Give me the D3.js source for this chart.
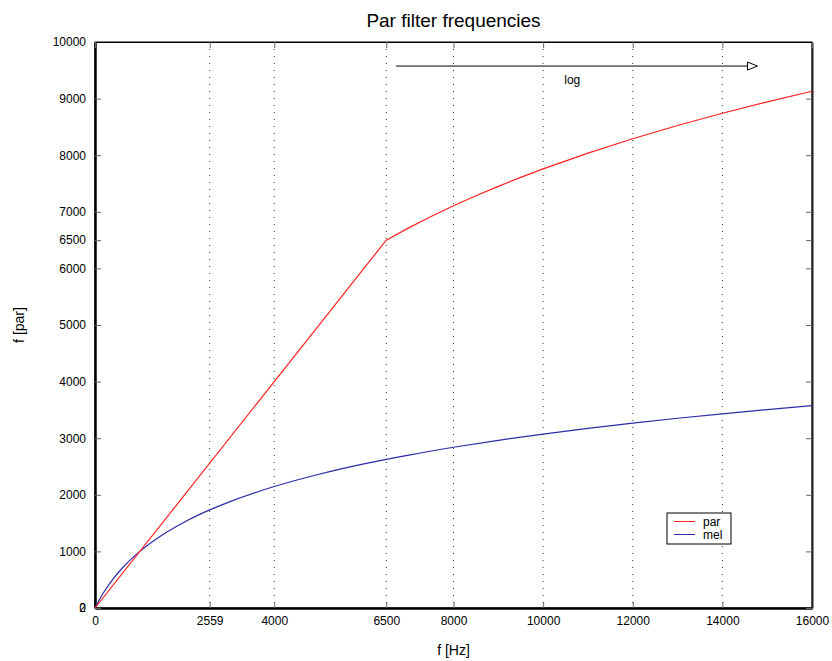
<!DOCTYPE html>
<html>
<head>
<meta charset="utf-8">
<script src="https://cdn.jsdelivr.net/npm/d3@7"></script>
<style>
  body { margin: 0; background: #fff; }
  svg { font-family: "Liberation Sans", Arial, Helvetica, sans-serif; }
  .grid line { stroke: #333; stroke-width: 1; stroke-dasharray: 1,6; }
  .tick text { font-size: 12px; fill: #000; }
</style>
</head>
<body>
<svg width="832" height="661"></svg>
<script>
// par: linear up to 6500 Hz, log-like above
var parF = [0, 6500, 7000, 7500, 8000, 8500, 9000, 9500, 10000, 11000, 12000, 13000, 14000, 15000, 16000],
    parV = [0, 6500, 6716, 6918, 7106, 7283, 7450, 7608, 7758, 8036, 8290, 8524, 8741, 8942, 9130];

// mel scale
var melF = [0, 100, 200, 400, 600, 800, 1000, 1500, 2000, 2559, 3000, 4000, 5000, 6000, 7000, 8000, 9000, 10000, 11000, 12000, 13000, 14000, 15000, 16000],
    melV = [0, 150, 283, 509, 698, 859, 1000, 1291, 1521, 1733, 1876, 2146, 2363, 2546, 2702, 2840, 2963, 3073, 3174, 3266, 3352, 3431, 3505, 3575];

var xTicks = [0, 2559, 4000, 6500, 8000, 10000, 12000, 14000, 16000],
    yTicks = [0, 2, 1000, 2000, 3000, 4000, 5000, 6000, 6500, 7000, 8000, 9000, 10000];

var svg = d3.select("svg"),
    margin = {top: 42, right: 20, bottom: 53, left: 95},
    width = +svg.attr("width") - margin.left - margin.right,
    height = +svg.attr("height") - margin.top - margin.bottom;

var x = d3.scaleLinear().domain([0, 16000]).range([0, width]),
    y = d3.scaleLinear().domain([0, 10000]).range([height, 0]);

var chart = svg.append("g")
    .attr("transform", "translate(" + margin.left + "," + margin.top + ")");

// dotted vertical grid
chart.append("g")
    .attr("class", "grid")
  .selectAll("line")
    .data(xTicks.filter(function(d) { return d > 0 && d < 16000; }))
  .enter().append("line")
    .attr("x1", function(d) { return x(d); })
    .attr("x2", function(d) { return x(d); })
    .attr("y1", 0)
    .attr("y2", height);

// frame
chart.append("rect")
    .attr("width", width)
    .attr("height", height)
    .attr("fill", "none")
    .attr("stroke", "#000")
    .attr("stroke-width", 1);

// axes
var xAxis = chart.append("g")
    .attr("transform", "translate(0," + height + ")")
    .call(d3.axisBottom(x).tickValues(xTicks).tickFormat(d3.format("d")).tickSizeInner(-6).tickSizeOuter(0).tickPadding(8));
xAxis.select(".domain").attr("stroke", "#000").attr("stroke-width", 2.5);
xAxis.selectAll(".tick line").attr("stroke", "#666");

var yAxis = chart.append("g")
    .call(d3.axisLeft(y).tickValues(yTicks).tickFormat(d3.format("d")).tickSizeInner(-6).tickSizeOuter(0).tickPadding(9));
yAxis.select(".domain").attr("stroke", "#000").attr("stroke-width", 2.5);
yAxis.selectAll(".tick line").attr("stroke", "#666");

var yRight = chart.append("g")
    .attr("transform", "translate(" + width + ",0)")
    .call(d3.axisRight(y).tickValues(yTicks).tickFormat("").tickSizeInner(-6).tickSizeOuter(0));
yRight.select(".domain").attr("stroke", "#222").attr("stroke-width", 2);
yRight.selectAll(".tick line").attr("stroke", "#666");

var xTop = chart.append("g")
    .call(d3.axisTop(x).tickValues(xTicks).tickFormat("").tickSizeInner(-6).tickSizeOuter(0));
xTop.select(".domain").attr("stroke", "#000").attr("stroke-width", 1);
xTop.selectAll(".tick line").attr("stroke", "#666");

// curves
var parLine = d3.line()
    .x(function(d, i) { return x(parF[i]); })
    .y(function(d) { return y(d); });

var melLine = d3.line()
    .x(function(d, i) { return x(melF[i]); })
    .y(function(d) { return y(d); })
    .curve(d3.curveMonotoneX);

chart.append("path")
    .attr("d", melLine(melV))
    .attr("fill", "none")
    .attr("stroke", "#2b2ba8")
    .attr("stroke-width", 1.2);

chart.append("path")
    .attr("d", parLine(parV))
    .attr("fill", "none")
    .attr("stroke", "#f22")
    .attr("stroke-width", 1.2);

// log arrow
var arrowY = y(9575);
chart.append("line")
    .attr("x1", x(6720))
    .attr("x2", x(14560))
    .attr("y1", arrowY)
    .attr("y2", arrowY)
    .attr("stroke", "#000")
    .attr("stroke-width", 1);
chart.append("path")
    .attr("d", "M" + x(14560) + "," + (arrowY - 4) + "L" + (x(14560) + 10) + "," + arrowY + "L" + x(14560) + "," + (arrowY + 4) + "Z")
    .attr("fill", "#fff")
    .attr("stroke", "#000")
    .attr("stroke-width", 1);
chart.append("text")
    .attr("x", x(10650))
    .attr("y", arrowY + 18)
    .attr("text-anchor", "middle")
    .style("font-size", "12px")
    .text("log");

// legend
var legend = chart.append("g")
    .attr("transform", "translate(" + (667 - margin.left) + "," + (513 - margin.top) + ")");
legend.append("rect")
    .attr("width", 64)
    .attr("height", 31)
    .attr("fill", "#fff")
    .attr("stroke", "#000")
    .attr("stroke-width", 1);
var entries = [{name: "par", color: "#f22"}, {name: "mel", color: "#2b2ba8"}];
entries.forEach(function(e, i) {
  legend.append("line")
      .attr("x1", 7).attr("x2", 28)
      .attr("y1", 8.5 + i * 13).attr("y2", 8.5 + i * 13)
      .attr("stroke", e.color);
  legend.append("text")
      .attr("x", 36)
      .attr("y", 8.5 + i * 13)
      .attr("dy", ".35em")
      .style("font-size", "12px")
      .text(e.name);
});

// titles
svg.append("text")
    .attr("x", margin.left + width / 2)
    .attr("y", 27)
    .attr("text-anchor", "middle")
    .style("font-size", "19px")
    .text("Par filter frequencies");

svg.append("text")
    .attr("x", margin.left + width / 2)
    .attr("y", 655)
    .attr("text-anchor", "middle")
    .style("font-size", "14px")
    .text("f [Hz]");

svg.append("text")
    .attr("transform", "translate(24," + (margin.top + height / 2) + ") rotate(-90)")
    .attr("text-anchor", "middle")
    .style("font-size", "14px")
    .text("f [par]");
</script>
</body>
</html>
